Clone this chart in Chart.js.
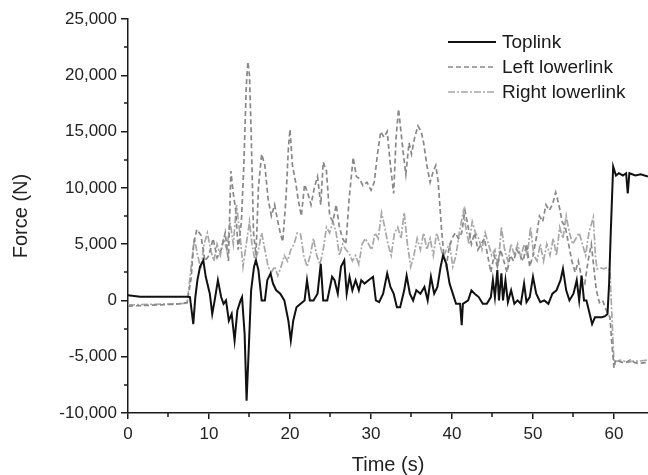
<!DOCTYPE html>
<html>
<head>
<meta charset="utf-8">
<title>Link forces</title>
<script src="https://cdn.jsdelivr.net/npm/chart.js@4.4.1/dist/chart.umd.min.js"></script>
<style>
  html, body { margin:0; padding:0; background:#fff; }
  #wrap { width:648px; height:475px; }
</style>
</head>
<body>
<div id="wrap"><canvas id="chart" width="648" height="475"></canvas></div>
<script>
// series names (legend order)
const seriesNames = ['Toplink', 'Left lowerlink', 'Right lowerlink'];

// Toplink, time (s) / force (N)
const topTime = [0,1.5,7.4,7.65,8.06,8.3,8.57,8.9,9.3,9.6,10.1,10.4,10.7,11.1,11.5,11.8,12.1,12.45,12.8,13.16,13.5,13.9,14.08,14.4,14.64,14.9,15.2,15.56,15.8,16.1,16.5,16.9,17.2,17.6,17.9,18.3,18.8,19.3,19.8,20.1,20.4,20.8,21.3,21.8,22.1,22.45,22.9,23.4,23.8,24.1,24.6,25.2,25.5,25.9,26.3,26.7,27.0,27.35,27.7,28.1,28.5,28.8,29.2,29.7,30.25,30.6,31.0,31.5,32.0,32.4,32.8,33.2,33.6,34.1,34.4,34.8,35.2,35.6,36.1,36.6,37.0,37.4,37.8,38.2,38.6,38.9,39.3,39.7,40.1,40.5,41.0,41.2,41.35,42.0,42.4,42.8,43.3,43.8,44.3,44.8,45.05,45.3,45.6,45.8,46.1,46.3,46.6,46.9,47.3,47.7,48.1,48.5,48.9,49.2,49.6,50.0,50.4,50.9,51.4,51.9,52.4,52.9,53.4,53.7,54.1,54.5,55.0,55.4,55.7,56.0,56.3,56.6,56.9,57.3,57.65,58.1,58.5,58.9,59.2,59.4,59.6,59.9,60.25,60.6,61.1,61.5,61.7,61.9,62.65,63.3,64.2];
const topForce = [450,320,320,300,-2100,200,1800,3000,3560,2100,600,-1200,0,1800,300,-300,0,-1800,-1200,-3560,-900,0,300,-3000,-8900,-4450,900,3000,3560,2700,0,0,1800,2400,1500,900,600,0,-1800,-3560,-1800,-600,-300,0,1800,0,0,600,3260,0,0,2100,1800,600,3000,3560,600,2100,900,1800,900,1800,1500,1800,2100,0,-150,600,2400,1200,600,-600,-600,900,2200,600,0,900,600,1200,0,2100,600,1200,3000,4000,3260,1500,600,-300,-300,-2200,-300,0,900,600,300,-300,-300,300,1800,300,2700,0,2400,0,1800,-150,900,-300,0,-300,1500,-150,300,2100,600,-150,0,-300,600,900,1800,2800,900,0,600,1800,0,2200,0,0,-900,-2100,-1500,-1500,-1500,-1400,-1200,1500,6000,11900,11100,11300,11100,11300,9500,11300,11100,11200,11000];

// Left lowerlink
const leftTime = [0,3,6,7.3,7.8,8.1,8.5,9.0,9.5,10.0,10.5,11.0,11.5,12.0,12.4,12.7,13.0,13.3,13.6,14.0,14.3,14.6,14.8,15.0,15.2,15.5,15.8,16.1,16.5,16.9,17.3,17.7,18.1,18.5,18.8,19.1,19.5,19.8,20.0,20.3,20.7,21.0,21.4,21.8,22.2,22.6,23.0,23.4,23.8,24.1,24.5,24.9,25.3,25.7,26.1,26.5,26.9,27.3,27.8,28.2,28.6,29.0,29.5,30.0,30.4,30.8,31.2,31.6,32.0,32.4,32.8,33.1,33.4,33.7,34.0,34.3,34.7,35.0,35.4,35.8,36.2,36.5,36.9,37.3,37.7,38.0,38.3,38.7,39.0,39.3,39.6,40.0,40.4,40.8,41.2,41.6,42.0,42.4,42.8,43.2,43.6,44.0,44.4,44.8,45.2,45.6,46.0,46.4,46.8,47.2,47.6,48.0,48.4,48.8,49.2,49.6,50.0,50.4,50.8,51.2,51.6,52.0,52.4,52.8,53.2,53.6,54.0,54.4,54.8,55.2,55.6,56.0,56.4,56.8,57.2,57.5,57.8,58.2,58.6,59.0,59.5,59.7,60.0,60.2,60.6,61.0,61.5,62.0,62.5,63.0,64.2];
const leftForce = [-500,-420,-330,-200,2000,5000,6300,5800,3500,4000,5500,3800,4500,6000,3500,11500,9500,8000,4500,7000,12000,19000,21200,20000,15000,6000,4000,10000,13000,12000,9000,7500,8500,7000,6000,5200,9000,13500,15200,12000,10500,9000,7500,10300,9500,8500,10000,11000,8500,12300,11500,7500,7000,8500,6500,5500,5000,9000,12700,11000,10800,10200,10500,9800,10500,13000,15000,14500,15000,12000,9500,14500,17000,15000,13000,11200,14000,13000,14500,15500,15000,14000,12000,10500,11500,12000,10500,6400,4000,3000,4500,5500,6000,5500,6000,8000,6500,5000,6000,4500,5000,5500,4000,2500,4000,3000,4500,3500,2500,4000,3500,4500,4000,3500,5000,3000,4000,5500,7500,7000,8500,8000,8500,9600,8500,7000,6500,5000,3500,2500,3500,2000,1500,3500,5000,3000,1000,-200,0,-800,-1500,-3500,-6000,-5300,-5400,-5500,-5500,-5300,-5500,-5600,-5500];

// Right lowerlink
const rightTime = [0,3,6,7.3,7.8,8.2,8.6,9.0,9.4,9.8,10.2,10.6,11.0,11.4,11.8,12.2,12.6,13.0,13.4,13.8,14.2,14.6,15.0,15.3,15.7,16.1,16.5,16.9,17.3,17.7,18.1,18.5,18.9,19.3,19.7,20.1,20.5,20.9,21.3,21.7,22.1,22.5,22.9,23.3,23.7,24.1,24.5,24.9,25.3,25.7,26.1,26.5,26.9,27.3,27.7,28.1,28.5,28.9,29.3,29.7,30.1,30.5,30.9,31.3,31.7,32.1,32.5,32.9,33.3,33.7,34.1,34.5,34.9,35.3,35.7,36.1,36.5,36.9,37.3,37.7,38.1,38.5,38.9,39.3,39.7,40.1,40.5,40.9,41.4,41.7,42.1,42.5,42.9,43.3,43.7,44.1,44.5,44.9,45.3,45.7,46.1,46.5,46.9,47.3,47.7,48.1,48.5,48.9,49.3,49.7,50.1,50.5,50.9,51.3,51.7,52.1,52.5,52.9,53.3,53.7,54.1,54.5,54.9,55.3,55.7,56.1,56.5,56.9,57.45,57.7,57.9,58.3,58.7,59.1,59.5,59.75,60.0,60.3,60.8,61.3,61.8,62.3,63.0,64.2];
const rightForce = [-400,-350,-300,-250,3000,5500,4000,2800,5000,6000,4500,3500,5000,4000,5500,4500,7000,5000,8500,6000,3000,5000,7000,5000,3500,4500,6000,4500,3000,2500,3000,2200,3000,4000,3500,4500,5000,6000,5900,4000,3000,4000,5500,4000,3200,4500,6500,6000,7000,6000,4000,5000,4500,4200,3500,4000,3200,5000,5500,5000,4500,6000,5500,7800,6500,5000,4000,6000,6500,5500,7800,5000,3000,4000,5500,4500,6000,4500,5500,4000,6000,5000,3800,4500,5000,3000,4000,6000,7900,6500,5000,7000,6000,5500,4500,6000,5000,4000,4500,3000,6500,4500,3500,5000,4000,5000,3800,5000,4000,6500,4000,3500,5000,3500,5000,4000,5500,4000,6500,5500,7500,6000,5000,5500,6000,5000,4000,6000,7400,4000,2800,2900,2800,2900,2700,-1500,-5500,-5400,-5300,-5400,-5500,-5400,-5400,-5300];

// axis ticks
const xTicks = [0, 10, 20, 30, 40, 50, 60];
const yTicks = [-10000, -5000, 0, 5000, 10000, 15000, 20000, 25000];

const AXIS = '#1a1a1a';
const FONT = 'Liberation Sans, Arial, sans-serif';

function pairs(t, v){ return t.map((x, i) => ({ x, y: v[i] })); }

const styles = [
  { color:'#111111', width:2, dash:[] },
  { color:'#888888', width:1.7, dash:[5,3] },
  { color:'#a8a8a8', width:1.7, dash:[7,2,2,2] }
];

// minor tick marks halfway between labelled ticks
const minorTicks = {
  id: 'minorTicks',
  afterDraw(chart){
    const { ctx, scales:{ x, y } } = chart;
    ctx.save();
    ctx.strokeStyle = AXIS; ctx.lineWidth = 1.5;
    ctx.beginPath();
    for(let i = 0; i < yTicks.length - 1; i++){
      const py = Math.round(y.getPixelForValue((yTicks[i] + yTicks[i+1]) / 2));
      ctx.moveTo(y.right - 4, py); ctx.lineTo(y.right, py);
    }
    for(let i = 0; i < xTicks.length; i++){
      const mid = xTicks[i] + 5;
      if(mid > x.max) break;
      const px = Math.round(x.getPixelForValue(mid));
      ctx.moveTo(px, x.top); ctx.lineTo(px, x.top + 4);
    }
    ctx.stroke();
    ctx.restore();
  }
};

// legend in the upper right corner
const cornerLegend = {
  id: 'cornerLegend',
  afterDraw(chart){
    const ctx = chart.ctx;
    const x0 = 448, len = 48, rowY = [42, 67, 92];
    ctx.save();
    ctx.font = '19px ' + FONT;
    ctx.textBaseline = 'middle';
    seriesNames.forEach((name, i) => {
      const s = styles[i];
      ctx.strokeStyle = s.color; ctx.lineWidth = s.width; ctx.setLineDash(s.dash);
      ctx.beginPath(); ctx.moveTo(x0, rowY[i]); ctx.lineTo(x0 + len, rowY[i]); ctx.stroke();
      ctx.setLineDash([]);
      ctx.fillStyle = '#1a1a1a';
      ctx.fillText(name, x0 + len + 6, rowY[i] + 1);
    });
    ctx.restore();
  }
};

const series = [pairs(topTime, topForce), pairs(leftTime, leftForce), pairs(rightTime, rightForce)];

new Chart(document.getElementById('chart'), {
  type: 'line',
  data: {
    datasets: series.map((d, i) => ({
      label: seriesNames[i],
      data: d,
      borderColor: styles[i].color,
      borderWidth: styles[i].width,
      borderDash: styles[i].dash,
      pointRadius: 0,
      tension: 0,
      fill: false
    }))
  },
  options: {
    responsive: false,
    animation: false,
    layout: { padding: { top: 19, right: 0, left: 0, bottom: 0 } },
    plugins: { legend: { display:false }, tooltip: { enabled:false } },
    scales: {
      x: {
        type: 'linear', min: 0, max: 64.2,
        afterFit: s => { s.height = 62; },
        afterBuildTicks: s => { s.ticks = xTicks.map(v => ({ value: v })); },
        border: { display:true, color: AXIS, width: 1.5 },
        grid: { drawOnChartArea:false, drawTicks:true, tickLength:6, color: AXIS, lineWidth:1.5 },
        ticks: { color:'#222', font:{ family: FONT, size:17 }, padding:5, maxRotation:0 },
        title: { display:true, text:'Time (s)', color:'#222', font:{ family: FONT, size:20, lineHeight:1 }, padding:{ top:0, bottom:0 } }
      },
      y: {
        type: 'linear', min: -10000, max: 25000,
        afterFit: s => { s.width = 128; },
        afterBuildTicks: s => { s.ticks = yTicks.map(v => ({ value: v })); },
        border: { display:true, color: AXIS, width: 1.5 },
        grid: { drawOnChartArea:false, drawTicks:true, tickLength:7, color: AXIS, lineWidth:1.5 },
        ticks: { color:'#222', font:{ family: FONT, size:17 }, padding:4, callback: v => v.toLocaleString('en-US') },
        title: { display:true, text:'Force (N)', color:'#222', font:{ family: FONT, size:20, lineHeight:1 }, padding:{ top:11, bottom:0 } }
      }
    }
  },
  plugins: [minorTicks, cornerLegend]
});
</script>
</body>
</html>
